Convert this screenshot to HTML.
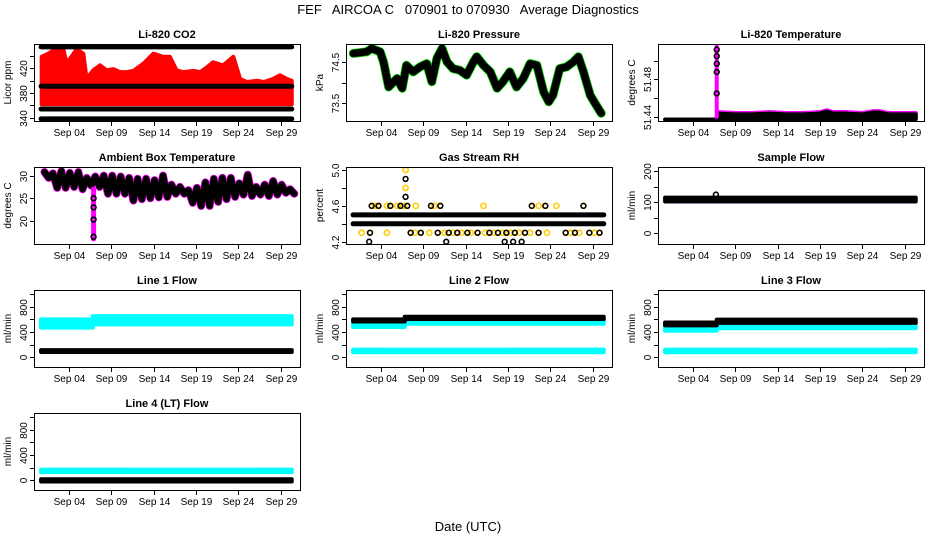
<!DOCTYPE html>
<html><head><meta charset="utf-8"><style>
html,body{margin:0;padding:0;background:#fff}
svg{display:block;font-family:"Liberation Sans",sans-serif}
text{white-space:pre}
</style></head><body>
<svg id="chart" width="936" height="540" viewBox="0 0 936 540" xmlns="http://www.w3.org/2000/svg">
<text x="468" y="14" font-size="13" text-anchor="middle" xml:space="preserve">FEF   AIRCOA C   070901 to 070930   Average Diagnostics</text>
<text x="468" y="531" font-size="13" text-anchor="middle">Date (UTC)</text>
</svg>
<script>
// ---- shared axis data ----
const xTickDays = [3, 8, 13, 18, 23, 28];
const xTickLabels = ["Sep 04", "Sep 09", "Sep 14", "Sep 19", "Sep 24", "Sep 29"];
const dayStart = -0.3, dayEnd = 29.3;

// ---- CO2 ----
const co2Days = [-0.23,0.56,1.35,2.33,2.72,3.9,4.69,5.08,5.87,6.66,7.44,8.23,9.02,9.81,10.6,11.8,12.96,14.1,14.9,15.7,16.5,17.7,18.5,19.3,20.0,21.2,22.4,23.2,24.0,25.2,26.0,27.1,27.9,28.7,29.3];
const co2Top = [439,444,451,451,428,451,444,403,417,425,417,419,414,414,416,428,444,439,439,417,414,416,414,422,430,425,439,403,398,400,398,403,409,403,400];
const co2Low = [362,362,362,362,362,362,362,362,362,362,362,362,362,362,362,362,362,362,362,362,362,362,362,362,362,362,362,362,362,362,362,362,362,362,362];
const co2Bands = [455, 391, 354, 338];

// ---- Pressure ----
const presDays = [-0.27,1.3,1.9,2.9,3.3,3.9,4.9,5.5,6.0,6.8,7.6,8.4,9.0,9.6,10.2,10.8,11.5,12.3,13.1,13.9,14.3,15.1,15.9,16.7,17.4,18.2,19.0,19.8,20.6,21.4,22.2,22.8,23.3,24.1,24.9,25.7,26.3,26.9,27.7,28.4,29.0];
const presVals = [74.72,74.76,74.84,74.76,74.51,73.90,74.11,73.87,74.43,74.27,74.39,74.47,74.03,74.60,74.84,74.51,74.35,74.31,74.19,74.51,74.64,74.43,74.27,73.87,74.03,74.27,73.90,74.11,74.47,74.43,73.78,73.54,73.70,74.35,74.39,74.51,74.64,74.27,73.70,73.46,73.26];

// ---- Li-820 temperature ----
const ltFlatDays = [-0.3, 5.8];
const ltFlatVals = [51.437, 51.437];
const ltSpikeDay = 5.8;
const ltSpikePts = [51.512, 51.505, 51.497, 51.488, 51.465];
const ltDays = [5.9,8,10,12,14,16,18,18.8,19.5,21,23,24.3,25,26,28,29.3];
const ltHi = [51.445,51.444,51.444,51.445,51.444,51.444,51.445,51.447,51.445,51.445,51.444,51.446,51.446,51.444,51.444,51.444];
const ltLo = [51.4375,51.4375,51.4375,51.4375,51.4375,51.4375,51.4375,51.4375,51.4375,51.4375,51.4375,51.4375,51.4375,51.4375,51.4375,51.4375];

// ---- Ambient box temperature (daily high / low) ----
const ambHi = [30.8,30.5,31.0,30.6,30.8,29.5,29.8,30.0,30.0,29.8,29.5,29.3,29.3,29.0,30.0,28.0,27.5,26.8,27.3,28.5,29.3,29.5,29.5,28.3,30.2,27.5,28.0,28.8,28.0,27.0];
const ambLo = [29.5,27.3,27.3,27.5,27.0,27.8,27.5,26.0,26.0,26.0,24.5,24.8,25.0,25.2,25.3,26.0,26.0,24.0,23.3,23.3,24.2,24.8,25.3,25.8,25.5,25.8,25.5,25.8,26.2,26.0];
const ambSpikeDay = 5.9;
const ambSpikePts = [25.0, 23.0, 20.3, 16.5];

// ---- Gas stream RH ----
const rhBands = [4.5, 4.4];
const rh46Days = [1.9,2.3,2.7,3.7,4.1,4.9,5.3,5.7,6.1,7.1,8.9,9.3,10.0,15.1,20.8,21.6,22.4,23.7,26.9];
const rh43Days = [0.7,1.7,3.7,6.5,7.0,7.7,8.7,9.7,10.5,11.0,11.5,12.0,12.5,13.2,13.6,14.4,15.3,15.8,16.3,16.8,17.4,17.8,18.3,18.8,19.3,20.0,20.6,21.6,22.6,24.8,25.4,25.9,26.4,27.6,28.2,28.8];
const rh42Days = [1.6,10.7,17.6,18.6,19.6];
const rhSpikeDay = 5.9;
const rhSpikePts = [4.7, 4.9];

// ---- Sample flow ----
const sfBandLo = 100, sfBandHi = 114;
const sfBumpDay = 5.7, sfBumpVal = 124;

// ---- Line flows (pre / post step at ~day 5.8) ----
const lfDays = [-0.3, 5.8, 5.8, 29.3];
const l1CyanLo = [470,470,520,520], l1CyanHi = [600,600,650,650];
const l1Black = 100;
const l2CyanLo = [480,480,530,530], l2CyanHi = [545,545,620,620];
const l2BlackLo = [565,565,605,605], l2BlackHi = [600,600,640,640];
const l3CyanLo = [420,420,460,460], l3CyanHi = [480,480,520,520];
const l3BlackLo = [505,505,545,545], l3BlackHi = [550,550,595,595];
const lowCyan = 100;
const l4Cyan = 150, l4Black = 0;

const flowTicks = [0,200,400,600,800,1000];
const flowLabels = ["0","","400","","800",""];

const NS = "http://www.w3.org/2000/svg";
const svg = document.getElementById('chart');
function mk(tag, attrs, parent){ const e=document.createElementNS(NS,tag); for(const k in attrs) e.setAttribute(k,attrs[k]); (parent||svg).appendChild(e); return e; }

const colX = [34, 346, 658], rowY = [44, 167, 290, 413];
const W = 266, H = 77;

function panel(col,row,title,ylab,ymin,ymax,yticks,ylabels,name){
  const x0=colX[col], y0=rowY[row];
  const g = mk('g',{});
  
  
  const xs = d => x0 + 9.6 + d*8.47;
  const ys = v => y0 + H - (v-ymin)/(ymax-ymin)*H;
  const clipId='clip'+col+row;
  const cp = mk('clipPath',{id:clipId},g); mk('rect',{x:x0,y:y0,width:W,height:H},cp);
  const plot = mk('g',{'clip-path':'url(#'+clipId+')'},g);
  
  
  const t = mk('text',{x:x0+W/2,y:y0-6,'font-size':11,'font-weight':'bold','text-anchor':'middle'},g);
  t.textContent = title;
  
  
  const yl = mk('text',{x:0,y:0,'font-size':10,'text-anchor':'middle',transform:`translate(${x0-23},${y0+H/2}) rotate(-90)`},g);
  yl.textContent = ylab;
  
  
  const box = mk('rect',{x:x0+0.5,y:y0+0.5,width:W,height:H,fill:'none',stroke:'#000','stroke-width':1},g);
  
  
  xTickDays.forEach((d,i)=>{
    const x=Math.round(xs(d))+0.5;
    const tk = mk('line',{x1:x,x2:x,y1:y0+H,y2:y0+H+5,stroke:'#000'},g);
    
    
    const lb = mk('text',{x:x,y:y0+H+15,'font-size':10,'text-anchor':'middle'},g);
    lb.textContent = xTickLabels[i];
    
    
  });
  yticks.forEach((v,i)=>{
    const y=Math.round(ys(v))+0.5;
    const tk = mk('line',{x1:x0-4,x2:x0,y1:y,y2:y,stroke:'#000'},g);
    
    
    if(ylabels[i]){
      const lb = mk('text',{x:0,y:0,'font-size':10,'text-anchor':'middle',transform:`translate(${x0-7},${y}) rotate(-90)`},g);
      lb.textContent = ylabels[i];
      
      
    }
  });
  return {plot,xs,ys};
}
function band(p,days,lo,hi,color,nm){
  const pts = days.map((d,i)=>p.xs(d)+','+p.ys(hi[i])).concat(days.map((d,i)=>[d,i]).reverse().map(([d,i])=>p.xs(d)+','+p.ys(lo[i])));
  const e = mk('polygon',{points:pts.join(' '),fill:color,stroke:color,'stroke-width':4,'stroke-linejoin':'round'},p.plot);
  
  
}
function line(p,days,vals,color,w,nm){
  const e = mk('polyline',{points:days.map((d,i)=>p.xs(d)+','+p.ys(vals[i])).join(' '),fill:'none',stroke:color,'stroke-width':w,'stroke-linejoin':'round','stroke-linecap':'round'},p.plot);
  
  
}
function pts(p,days,vals,color,nm,r){
  days.forEach((d,i)=>{
    const e = mk('circle',{cx:p.xs(d),cy:p.ys(vals[i]),r:r||2.4,fill:'none',stroke:color,'stroke-width':1.6},p.plot);
    
    
  });
}
const span = [dayStart, dayEnd];

// CO2
let p = panel(0,0,"Li-820 CO2","Licor ppm",334.6,459.7,[340,360,380,400,420,440],["340","","380","","420",""],"co2");
band(p,co2Days,co2Low,co2Top,'#ff0000','co2-red-series');
co2Bands.forEach(v=>line(p,span,[v,v],'#000',5,'co2-black-band'));

// Pressure
p = panel(1,0,"Li-820 Pressure","kPa",73.07,74.95,[73.5,74.0,74.5],["73.5","","74.5"],"pressure");
line(p,presDays,presVals,'#00dd00',9,'pressure-green-series');
line(p,presDays,presVals,'#000',7.5,'pressure-black-series');

// Li-820 temperature
p = panel(2,0,"Li-820 Temperature","degrees C",51.4354,51.518,[51.44,51.46,51.48,51.50],["51.44","","51.48",""],"licor-temp");
line(p,ltFlatDays,ltFlatVals,'#000',4,'licor-temp-early-series');
band(p,ltDays,ltLo,ltHi,'#ff00ff','licor-temp-magenta-series');
band(p,ltDays,ltLo,ltHi.map(v=>v-0.0015),'#000','licor-temp-black-series');
line(p,[ltSpikeDay,ltSpikeDay],[51.44,51.52],'#ff00ff',4,'licor-temp-spike');
pts(p,ltSpikePts.map(()=>ltSpikeDay),ltSpikePts,'#000','licor-temp-spike-point');

// Ambient
p = panel(0,1,"Ambient Box Temperature","degrees C",14.9,31.9,[20,25,30],["20","25","30"],"ambient");
const ambT=[], ambV=[];
ambHi.forEach((h,i)=>{ ambT.push(i+0.1); ambV.push(h); ambT.push(i+0.6); ambV.push(ambLo[i]); });
line(p,ambT,ambV,'#ff00ff',8,'ambient-magenta-series');
line(p,ambT,ambV,'#000',6.5,'ambient-black-series');
line(p,[ambSpikeDay,ambSpikeDay],[27,16],'#ff00ff',5,'ambient-spike');
pts(p,ambSpikePts.map(()=>ambSpikeDay),ambSpikePts,'#000','ambient-spike-point');

// RH
p = panel(1,1,"Gas Stream RH","percent",4.175,5.033,[4.2,4.4,4.6,4.8,5.0],["4.2","","4.6","","5.0"],"rh");
rhBands.forEach(v=>line(p,span,[v,v],'#000',5,'rh-band'));
pts(p,rh46Days,rh46Days.map(()=>4.6),'#ffcc00','rh-yellow-point',2.6);
pts(p,rh43Days,rh43Days.map(()=>4.3),'#ffcc00','rh-yellow-point',2.6);
pts(p,rh46Days.filter((d,i)=>i%2==0),rh46Days.filter((d,i)=>i%2==0).map(()=>4.6),'#000','rh-point');
pts(p,rh43Days.filter((d,i)=>i%2==1),rh43Days.filter((d,i)=>i%2==1).map(()=>4.3),'#000','rh-point');
pts(p,rh42Days,rh42Days.map(()=>4.2),'#000','rh-point');
pts(p,[rhSpikeDay,rhSpikeDay],[4.8,5.0],'#ffcc00','rh-yellow-point',2.6);
pts(p,rhSpikePts.map(()=>rhSpikeDay),rhSpikePts,'#000','rh-point');

// Sample flow
p = panel(2,1,"Sample Flow","ml/min",-35.5,213,[0,50,100,150,200],["0","","100","","200"],"sample-flow");
line(p,span,[sfBandLo,sfBandLo],'#0000ff',3,'sample-flow-blue-series');
band(p,span,[sfBandLo+2,sfBandLo+2],[sfBandHi,sfBandHi],'#000','sample-flow-black-series');
pts(p,[sfBumpDay],[sfBumpVal],'#000','sample-flow-point');

const fmin=-151, fmax=1062;
// Line 1
p = panel(0,2,"Line 1 Flow","ml/min",fmin,fmax,flowTicks,flowLabels,"line1-flow");
band(p,lfDays,l1CyanLo,l1CyanHi,'#00ffff','line1-cyan-series');
band(p,span,[l1Black-14,l1Black-14],[l1Black+14,l1Black+14],'#000','line1-black-series');
// Line 2
p = panel(1,2,"Line 2 Flow","ml/min",fmin,fmax,flowTicks,flowLabels,"line2-flow");
band(p,lfDays,l2CyanLo,l2CyanHi,'#00ffff','line2-cyan-series');
band(p,lfDays,l2BlackLo,l2BlackHi,'#000','line2-black-series');
band(p,span,[lowCyan-18,lowCyan-18],[lowCyan+22,lowCyan+22],'#00ffff','line2-cyan-low-series');
// Line 3
p = panel(2,2,"Line 3 Flow","ml/min",fmin,fmax,flowTicks,flowLabels,"line3-flow");
band(p,lfDays,l3CyanLo,l3CyanHi,'#00ffff','line3-cyan-series');
band(p,lfDays,l3BlackLo,l3BlackHi,'#000','line3-black-series');
band(p,span,[lowCyan-18,lowCyan-18],[lowCyan+22,lowCyan+22],'#00ffff','line3-cyan-low-series');
// Line 4
p = panel(0,3,"Line 4 (LT) Flow","ml/min",fmin,fmax,flowTicks,flowLabels,"line4-flow");
band(p,span,[l4Cyan-20,l4Cyan-20],[l4Cyan+20,l4Cyan+20],'#00ffff','line4-cyan-series');
band(p,span,[l4Black-18,l4Black-18],[l4Black+18,l4Black+18],'#000','line4-black-series');
</script>
</body></html>
